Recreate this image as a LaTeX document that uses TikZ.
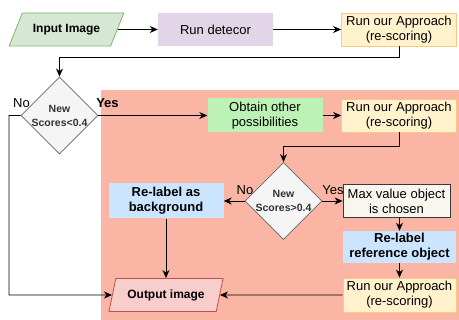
\documentclass[tikz,border=0pt]{standalone}
\usepackage{fontspec}
\setmainfont{Liberation Sans}
\usetikzlibrary{shapes.geometric,arrows.meta,positioning}
\definecolor{zonefill}{RGB}{250,181,164}
\definecolor{inputfill}{HTML}{D5E8D4}
\definecolor{inputline}{HTML}{82B366}
\definecolor{detfill}{HTML}{E1D5E7}
\definecolor{appfill}{HTML}{FFF2CC}
\definecolor{appline}{RGB}{250,200,130}
\definecolor{obtfill}{RGB}{189,242,183}
\definecolor{labfill}{HTML}{CCE5FF}
\definecolor{decfill}{HTML}{F5F5F5}
\definecolor{decline}{HTML}{666666}
\definecolor{dectext}{HTML}{333333}
\definecolor{maxfill}{HTML}{F9F7ED}
\definecolor{maxline}{HTML}{36393D}
\definecolor{outfill}{HTML}{F8CECC}
\definecolor{outline}{HTML}{B85450}

\begin{document}
\begin{tikzpicture}[x=1pt, y=-1pt,
  every node/.style={font=\fontsize{13}{15}\selectfont, align=center, inner sep=0pt},
  flow/.style={-{Stealth[length=8pt,width=7pt,inset=2.5pt]}, line width=0.9pt},
  procbox/.style={rectangle, minimum width=115pt, minimum height=33pt},
  approach/.style={procbox, fill=appfill, draw=appline, line width=0.8pt},
  boldbox/.style={procbox, fill=labfill, font=\bfseries\fontsize{13}{15}\selectfont},
  iobox/.style={trapezium, trapezium stretches=true, minimum width=115pt, minimum height=33pt,
    line width=0.8pt, font=\bfseries\fontsize{12}{14}\selectfont},
  decide/.style={diamond, minimum width=77pt, minimum height=77pt, fill=decfill, draw=decline,
    line width=0.8pt, text=dectext, font=\bfseries\fontsize{10.5}{14}\selectfont}]
  \useasboundingbox (0,0) rectangle (459,320);
  % background zone
  \fill[zonefill] (101,90) rectangle (459,320);
  % top row
  \node[iobox, trapezium left angle=47, trapezium right angle=133, fill=inputfill, draw=inputline] (input) at (66.5,29.5) {Input Image};
  \node[procbox, fill=detfill] (detect) at (215.5,29.5) {Run detecor};
  \node[approach] (app1) at (399,29.5) {Run our Approach\\(re-scoring)};
  % first decision
  \node[decide] (dec1) at (59.5,115.5) {New\\Scores<0.4};
  \node[procbox, minimum height=34pt, fill=obtfill] (obtain) at (265,115.5) {Obtain other\\possibilities};
  \node[approach] (app2) at (399,115.5) {Run our Approach\\(re-scoring)};
  % second decision
  \node[decide] (dec2) at (283.5,201) {New\\Scores>0.4};
  \node[boldbox, minimum height=35pt] (relabel) at (166,201) {Re-label as\\background};
  \node[procbox, minimum width=107pt, fill=maxfill, draw=maxline, line width=0.8pt] (maxobj) at (396.5,201) {Max value object\\is chosen};
  \node[boldbox, minimum width=113pt, minimum height=32pt] (refobj) at (399.5,247) {Re-label\\reference object};
  \node[approach, minimum width=113pt, minimum height=34pt] (app3) at (399.5,295) {Run our Approach\\(re-scoring)};
  % output
  \node[iobox, trapezium left angle=65, trapezium right angle=115, fill=outfill, draw=outline] (output) at (166,295) {Output image};
  \coordinate (lft) at (9,295);
  % labels
  \node (no1) at (21.5,103) {No};
  \node[font=\bfseries\fontsize{13}{15}\selectfont] (yes1) at (107.5,103) {Yes};
  \node (no2) at (245,190) {No};
  \node (yes2) at (333,190) {Yes};
  % connectors
  \draw[flow] (input) -- (detect);
  \draw[flow] (detect) -- (app1);
  \draw[flow] (app1.south) -- ++(0,11) -| (dec1.north);
  \draw[flow] (dec1) -- (obtain);
  \draw[flow] (dec1.west) -| (lft) -- (output);
  \draw[flow] (obtain) -- (app2);
  \draw[flow] (app2.south) -- ++(0,14) -| (dec2.north);
  \draw[flow] (dec2) -- (relabel);
  \draw[flow] (dec2) -- (maxobj);
  \draw[flow] (relabel) -- (output);
  \draw[flow] (refobj.north |- maxobj.south) -- (refobj);
  \draw[flow] (refobj) -- (app3);
  \draw[flow] (app3) -- (output);
\end{tikzpicture}
\end{document}
